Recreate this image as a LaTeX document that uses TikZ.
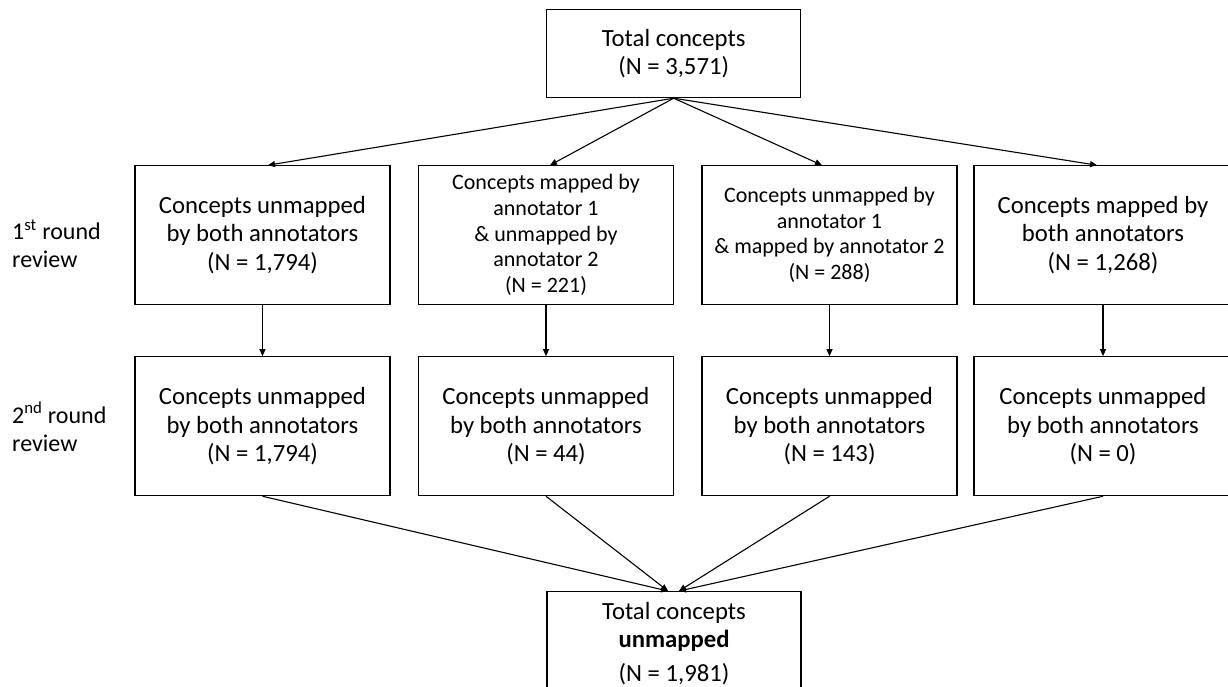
\documentclass[tikz,border=0pt]{standalone}
\usepackage{fontspec}
\setmainfont{Carlito}
\usetikzlibrary{arrows.meta,calc}
\begin{document}
\begin{tikzpicture}[x=1pt,y=-1pt,
  box/.style={draw,line width=1.1pt,rectangle,align=center,inner sep=2pt,
    minimum width=255pt,font=\fontsize{24.7}{28.5}\selectfont},
  smallbox/.style={box,font=\fontsize{22}{25.8}\selectfont},
  arr/.style={line width=1.1pt,-{Triangle[length=7pt,width=6pt]}},
  lab/.style={anchor=west,align=left,inner sep=0pt,font=\fontsize{24}{28.5}\selectfont}]
\useasboundingbox (0,0) rectangle (1228,687);
% top
\node[box,minimum height=87.7pt,minimum width=254pt] (top) at (673.7,53.8) {Total concepts\\(N = 3,571)};
% row 1
\node[box,minimum height=138.3pt] (a1) at (262.5,234.9) {Concepts unmapped\\by both annotators\\(N = 1,794)};
\node[smallbox,minimum height=138.3pt] (a2) at (546,234.9) {Concepts mapped by\\annotator 1\\\& unmapped by\\annotator 2\\(N = 221)};
\node[smallbox,minimum height=138.3pt] (a3) at (829.5,234.9) {Concepts unmapped by\\annotator 1\\\& mapped by annotator 2\\(N = 288)};
\node[box,minimum height=138.3pt,minimum width=258pt] (a4) at (1103,234.9) {Concepts mapped by\\both annotators\\(N = 1,268)};
% row 2
\node[box,minimum height=139pt] (b1) at (262.5,426.2) {Concepts unmapped\\by both annotators\\(N = 1,794)};
\node[box,minimum height=139pt] (b2) at (546,426.2) {Concepts unmapped\\by both annotators\\(N = 44)};
\node[box,minimum height=139pt] (b3) at (829.5,426.2) {Concepts unmapped\\by both annotators\\(N = 143)};
\node[box,minimum height=139pt,minimum width=258pt] (b4) at (1103,426.2) {Concepts unmapped\\by both annotators\\(N = 0)};
% bottom
\node[box,anchor=north,minimum height=104pt,minimum width=254pt] (bot) at (674,591) {Total concepts\\\textbf{unmapped}\\[5pt](N = 1,981)};
% labels
\node[lab] (l1) at (12,244) {1\textsuperscript{st} round\\review};
\node[lab] (l2) at (12,427) {2\textsuperscript{nd} round\\review};
% arrows top -> row 1
\draw[arr] (top.south) -- ($(a1.north)+(5.5,0)$);
\draw[arr] (top.south) -- ($(a2.north)+(4,0)$);
\draw[arr] (top.south) -- ($(a3.north)+(-7.5,0)$);
\draw[arr] (top.south) -- ($(a4.north)+(-6,0)$);
% row 1 -> row 2
\draw[arr] (a1.south) -- (b1.north);
\draw[arr] (a2.south) -- (b2.north);
\draw[arr] (a3.south) -- (b3.north);
\draw[arr] (a4.south) -- (b4.north);
% row 2 -> bottom
\draw[arr] (b1.south) -- ($(bot.north)+(-6,0)$);
\draw[arr] (b2.south) -- ($(bot.north)+(-6,0)$);
\draw[arr] (b3.south) -- ($(bot.north)+(5,0)$);
\draw[arr] (b4.south) -- ($(bot.north)+(5,0)$);
\end{tikzpicture}
\end{document}
